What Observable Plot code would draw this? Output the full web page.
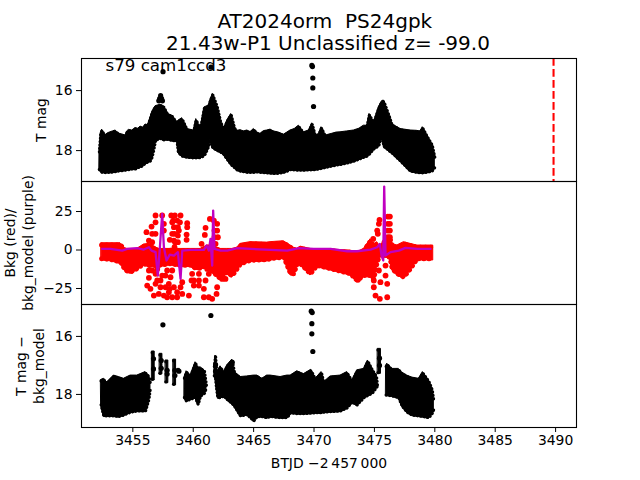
<!DOCTYPE html>
<html><head><meta charset="utf-8">
<script src="https://cdn.jsdelivr.net/npm/d3@7"></script>
<script src="https://cdn.jsdelivr.net/npm/@observablehq/plot@0.6"></script>
<style>
html,body{margin:0;padding:0;background:#fff;font-family:"DejaVu Sans",sans-serif;}
#title{height:58px;position:relative;width:640px;}
#title div{position:absolute;left:8px;width:640px;text-align:center;font-size:20px;line-height:22px;color:#000;white-space:pre;}
svg{display:block;overflow:visible;}
</style></head><body>
<div id="title"><div style="top:10px">AT2024orm  PS24gpk </div><div style="top:32px">21.43w-P1 Unclassified z= -99.0</div></div>
<div id="chart"></div>
<script>
const xDomain=[3450.75,3491.73];
const xTicks=[3455,3460,3465,3470,3475,3480,3485,3490];
const peakTime=[3489.83];
const sectorLabel="s79 cam1ccd3";

// T mag envelope
const magTime=[3452.24,3452.35,3452.46,3452.6,3452.74,3452.95,3453.15,3453.35,3453.57,3453.78,3453.98,3454.2,3454.39,3454.53,3454.67,3454.95,3455.22,3455.45,3455.64,3455.85,3456.05,3456.25,3456.46,3456.6,3456.74,3456.88,3457.29,3457.57,3457.9,3458.26,3458.67,3458.78,3459.09,3459.5,3460.05,3460.25,3460.6,3460.93,3461.29,3461.43,3461.62,3461.98,3462.26,3462.53,3462.81,3463.14,3463.42,3463.65,3463.91,3464.2,3464.47,3464.75,3465.02,3465.3,3465.57,3465.85,3466.12,3466.4,3466.67,3467.1,3467.5,3467.78,3468.05,3468.4,3468.74,3469.16,3469.57,3469.85,3470.12,3470.4,3470.62,3470.95,3471.5,3471.85,3472.19,3472.75,3473.3,3473.75,3474.12,3474.4,3474.59,3474.95,3475.36,3475.56,3475.64,3475.78,3476.19,3476.47,3476.61,3477.16,3477.99,3478.5,3478.81,3479.0,3479.37,3479.78,3480.0];
const magTop=[18.0,17.4,17.3,17.42,17.48,17.42,17.39,17.36,17.33,17.41,17.45,17.47,17.5,17.36,17.31,17.33,17.25,17.27,17.2,17.24,17.13,17.15,16.9,16.72,16.61,16.52,16.47,16.52,16.78,16.83,17.06,17.0,16.92,17.28,17.33,16.95,17.28,16.56,16.5,16.3,16.11,16.5,17.0,17.28,17.0,16.78,17.22,17.34,17.32,17.36,17.33,17.38,17.28,17.4,17.44,17.35,17.33,17.3,17.36,17.4,17.47,17.4,17.33,17.28,17.17,17.39,17.33,17.09,17.5,17.45,17.22,17.5,17.44,17.4,17.39,17.36,17.33,17.27,17.17,17.17,16.78,17.06,16.56,16.4,16.35,16.33,16.78,17.13,17.15,17.28,17.33,17.34,17.36,17.22,17.5,17.78,18.2];
const magBot=[18.67,18.72,18.76,18.76,18.77,18.76,18.76,18.75,18.74,18.72,18.71,18.7,18.69,18.68,18.67,18.65,18.65,18.6,18.58,18.53,18.45,18.42,18.38,18.25,18.0,17.69,17.63,17.68,17.66,17.7,17.72,18.1,18.22,18.26,18.28,18.28,18.27,18.2,17.89,17.61,17.94,18.03,18.08,18.16,18.32,18.5,18.6,18.68,18.72,18.74,18.76,18.76,18.76,18.75,18.76,18.77,18.78,18.79,18.8,18.79,18.76,18.72,18.67,18.68,18.69,18.69,18.68,18.68,18.67,18.65,18.63,18.6,18.55,18.52,18.5,18.45,18.39,18.32,18.26,18.22,18.15,17.98,17.88,17.6,17.5,17.89,18.03,18.12,18.17,18.38,18.72,18.76,18.78,18.78,18.76,18.72,18.6];
const magDotTime=[3457.5,3461.47,3469.82,3469.87,3469.9,3469.9,3469.96,3457.3,3457.22,3457.38,3457.15,3457.45];
const magDotVal=[15.37,15.22,15.16,15.2,15.58,15.91,16.53,16.17,16.27,16.27,16.34,16.34];

// Background
const bkgTime=[3452.41,3453.15,3453.98,3454.4,3454.81,3455.36,3455.91,3456.33,3457.15,3458.12,3458.95,3459.78,3460.19,3460.6,3461.16,3461.57,3462.26,3462.81,3463.22,3463.64,3463.92,3464.74,3466.12,3466.4,3467.5,3468.06,3468.33,3468.61,3468.88,3469.71,3470.26,3471.37,3471.92,3473.02,3473.57,3474.13,3474.68,3474.95,3475.23,3475.5,3476.0,3476.28,3476.47,3476.89,3477.44,3477.99,3478.54,3479.65,3479.87];
const bkgTop=[4.4,4.4,4.4,0.7,0.7,0.7,3.5,4.0,0.7,0.7,0.7,0.7,0.7,0.7,2.9,2.9,0.7,0.7,0.7,1.5,4.0,5.1,4.8,5.1,5.7,2.9,1.5,0.7,2.2,0.7,-0.4,0.7,0.1,-0.4,-1.4,0.7,7,3.5,5.1,2,9,9,4,2.9,5.1,4,2.9,2.9,2.9];
const bkgBot=[-6.8,-7.3,-9.0,-14.4,-15.5,-13.3,-10.1,-11.2,-11.2,-10,-11.2,-11,-13,-13,-11.2,-15,-19.8,-15.5,-18,-13.3,-10.1,-7.9,-7.5,-6.8,-5.8,-16.6,-16.6,-10.1,-10.1,-16.6,-11.2,-13.3,-14.4,-16.6,-20.9,-17.7,-17.7,-20,-9,-4,-5,-6,-13.3,-16.6,-18.8,-13.3,-6.8,-6.8,-6.8];
const bkgDotTime=[3458.18,3458.48,3458.95,3456.88,3457.43,3458.34,3458.67,3458.4,3458.73,3458.45,3458.73,3458.4,3458.73,3458.45,3459.5,3459.5,3459.45,3459.45,3456.55,3456.13,3456.6,3456.88,3456.33,3456.6,3456.88,3457.57,3457.57,3458.06,3461.02,3460.96,3460.69,3461.38,3461.71,3461.98,3461.76,3461.98,3461.76,3462.04,3461.85,3456.33,3456.19,3456.46,3456.74,3456.6,3456.33,3456.88,3457.29,3457.29,3457.57,3457.7,3457.98,3458.06,3457.98,3458.26,3457.84,3458.67,3459.09,3459.09,3459.64,3460.47,3460.47,3460.47,3459.91,3460.05,3459.86,3460.05,3460.88,3460.88,3461.02,3461.29,3461.57,3461.93,3461.16,3461.29,3461.98,3462.4,3462.67,3475.42,3475.23,3475.37,3474.9,3475.28,3474.95,3474.95,3475.37,3475.5,3475.09,3475.45,3476.06,3476.06,3475.92,3475.92,3476.11,3476.28,3476.11,3476.28,3476.11,3476.28,3476.11,3476.28,3476.11,3476.28,3473.63,3457.02,3457.02,3457.15,3457.43,3457.84,3458.12,3458.4,3458.67,3458.95,3457.71,3456.88,3458.26,3458.26,3458.81,3458.26,3458.9,3458.5,3458.12];
const bkgDotVal=[22.4,22.4,22.4,22.4,22.4,19.1,19.1,14.8,14.8,10.5,9.4,6.1,5.1,1.8,17.4,14.8,10.0,6.6,15.2,11.6,10.5,10.5,6.1,5.1,18.0,17,12.6,6.6,14.4,9.8,4,20.2,19.1,17,12.6,12.6,8.3,8.3,4.0,-18.1,-23.1,-25.2,-29.6,-13.3,-13.3,-15.5,-19.8,-24.2,-29.6,-16.6,-22,-25.2,-27.4,-30.7,-30.7,-30.7,-28.5,-20.9,-29.6,-15.5,-19.8,-23.1,-15.5,-19.8,-19.8,-23.1,-30.7,-25.2,-19.8,-30.7,-31.7,-28.5,-12.3,-15.5,-24.2,-18.8,-18.8,19.6,12.6,17,7.2,10.5,-19.8,-24.2,-13.3,-20.9,-29.6,-31.7,-30.7,-22,-16.6,-10.1,21.7,21.7,17,17,12.6,12.6,8.3,8.3,4,4,-19.4,-12.3,-19.8,-28.5,-16.6,-13.3,-17.7,-24.2,-27.4,-24.2,-24.2,-22,-13.3,18,12.6,10.5,18,5.1,-0.4];
const modelTime=[3452.46,3453.15,3454.12,3454.53,3455.36,3455.91,3456.33,3456.55,3456.88,3457.07,3457.24,3457.43,3457.57,3457.79,3458.06,3458.4,3458.73,3458.95,3459.09,3459.78,3460.88,3461.1,3461.29,3461.43,3461.57,3461.65,3461.76,3462.26,3462.81,3463.64,3464.74,3466.4,3467.78,3468.75,3469.99,3471.37,3472.75,3473.57,3474.68,3475.23,3475.45,3475.59,3475.73,3475.81,3475.92,3476.33,3477.02,3477.57,3478.54,3479.65];
const modelVal=[0.7,0.7,-0.4,0.7,1.2,0.3,1.8,-0.4,-1.4,-16.6,1.8,23.5,1.8,-6.8,-3,-3.6,-1.4,-18.8,-0.4,0.1,0.1,2.9,-0.4,7.2,-10.1,25.6,0.7,-0.4,-0.4,1.2,0.7,0.1,-0.4,1.2,0.7,0.7,-0.8,-0.8,0.3,1.8,4,-3.6,-6.8,41.2,-3.6,-1.4,-0.4,1.4,0.7,0.7];

// T mag - bkg_model envelope, in separate pieces
const diffPiece=[0,0,0,0,0,0,0,0,0,0,0,1,1,2,2,3,3,4,4,5,5,6,6,6,6,6,6,6,6,
 7,7,7,7,7,7,7,7,7,7,7,7,7,7,7,7,7,7,7,7,7,7,7,7,7,7,7,7,7,7,7,7,7,7,7,
 8,8,9,9,9,9,9,9,9,9,9,9,9,9];
const diffTime=[3452.38,3452.6,3452.88,3453.43,3453.84,3454.26,3454.81,3455.36,3456.05,3456.33,3456.46,3456.61,3456.81,3457.25,3457.45,3457.74,3457.94,3458.38,3458.58,3458.73,3458.89,3459.28,3459.45,3459.78,3460.19,3460.41,3460.6,3460.93,3461.1,3461.76,3461.85,3461.93,3462.04,3462.26,3462.54,3462.81,3463.23,3463.42,3463.92,3464.47,3465.02,3465.3,3465.71,3466.12,3466.4,3467.23,3467.78,3468.06,3468.61,3469.16,3469.77,3470.13,3470.62,3470.82,3471.37,3472.19,3472.75,3473.16,3473.57,3474.13,3474.46,3474.82,3475.17,3475.26,3475.3,3475.54,3475.98,3476.06,3476.47,3477.02,3477.3,3477.71,3478.13,3478.68,3479.01,3479.51,3479.78,3479.92];
const diffTop=[17.5,17.46,17.58,17.35,17.4,17.46,17.35,17.35,17.23,17.35,17.6,16.52,16.52,16.6,16.6,16.83,16.83,16.8,16.8,17.12,17.12,17.4,17.2,17.35,16.89,17.1,17.06,17.17,17.69,17.0,16.66,17.17,17.2,17.03,17.23,17.0,16.8,17.23,17.4,17.38,17.35,17.35,17.46,17.35,17.35,17.4,17.35,17.35,17.2,17.3,17.15,17.46,17.23,17.58,17.38,17.35,17.23,17.52,17.17,17.12,16.83,17.12,17.35,17.7,16.43,16.43,17.0,16.94,17.12,17.12,17.25,17.35,17.42,17.46,17.23,17.52,17.8,18.21];
const diffBot=[18.4,18.78,18.78,18.78,18.8,18.75,18.65,18.61,18.61,18.21,17.8,17.52,17.52,17.31,17.31,17.61,17.61,17.69,17.69,17.22,17.22,18.15,18.27,18.2,18.15,18.38,18.1,18.0,17.8,17.4,17.46,17.8,18.15,18.15,18.09,18.21,18.35,18.44,18.78,18.73,18.95,18.8,18.8,18.84,18.8,18.84,18.84,18.67,18.7,18.7,18.68,18.67,18.67,18.65,18.63,18.61,18.5,18.3,18.4,18.15,18.07,18.0,17.8,17.75,17.29,17.29,18.06,18.06,18.09,18.15,18.44,18.65,18.75,18.78,18.8,18.84,18.7,18.55];
const diffDotTime=[3457.49,3461.46,3469.77,3469.85,3469.82,3469.82,3469.9,3456.71,3456.71,3457.35,3457.84,3458.48,3458.81,3463.23,3461.85,3461.85,3457.35,3457.84,3458.48,3475.42,3475.42];
const diffDotVal=[15.6,15.28,15.13,15.18,15.56,15.91,16.52,16.77,17.12,16.83,17.17,17.17,17.2,16.89,16.98,17.2,17.1,17.3,17.35,16.75,17.0];

const fs=13.9, left=81, right=64;
const axisOpts={anchor:"left",tickSize:5,tickPadding:4,fontSize:fs,label:null,tickFormat:d3.format("d")};
const frame=Plot.frame({stroke:"#000",strokeWidth:1.1});
const style={background:"transparent",fontFamily:"DejaVu Sans",color:"#000"};
const yLabel=(text,dx)=>Plot.text([text],{text:d=>d,frameAnchor:"left",textAnchor:"middle",rotate:-90,dx,fontSize:fs,lineHeight:1.25,fill:"#000"});
// rounded fringe that gives the envelope the lumpy edge of overlapping points
const fringe=(xs,ys,z,color,dy,w,gap)=>Plot.line(xs,{x:xs,y:ys,z,dy,stroke:color,strokeWidth:w,strokeLinecap:"round",strokeDasharray:`0.1,${gap}`,curve:"linear"});

const p1=Plot.plot({width:640,height:123,marginLeft:left,marginRight:right,marginTop:0,marginBottom:0,style,
  x:{domain:xDomain,axis:null},y:{domain:[19.03,14.93],axis:null},
  marks:[
    Plot.areaY(magTime,{x:magTime,y1:magTop,y2:magBot,fill:"#000",stroke:"#000",strokeWidth:1,strokeLinejoin:"round"}),
    fringe(magTime,magTop,null,"#000",1.2,3.4,3.3),
    fringe(magTime,magBot,null,"#000",-1.2,3.4,3.3),
    Plot.dot(magDotTime,{x:magDotTime,y:magDotVal,r:2.6,fill:"#000"}),
    Plot.ruleX(peakTime,{x:d=>d,stroke:"#f00",strokeWidth:2.08,strokeDasharray:"7.7,3.3"}),
    Plot.text([sectorLabel],{x:3452.74,y:15.33,text:d=>d,textAnchor:"start",lineAnchor:"bottom",fontSize:16.67,fill:"#000"}),
    Plot.axisY({...axisOpts,ticks:[16,18]}),
    yLabel("T mag",-41),
    frame
  ]});
const p2=Plot.plot({width:640,height:123,marginLeft:left,marginRight:right,marginTop:0,marginBottom:0,style,
  x:{domain:xDomain,axis:null},y:{domain:[-35.4,44.5],axis:null},
  marks:[
    Plot.areaY(bkgTime,{x:bkgTime,y1:bkgTop,y2:bkgBot,fill:"#f00",stroke:"#f00",strokeWidth:1,strokeLinejoin:"round"}),
    fringe(bkgTime,bkgTop,null,"#f00",1.8,5,5),
    fringe(bkgTime,bkgBot,null,"#f00",-1.8,5,5),
    Plot.dot(bkgDotTime,{x:bkgDotTime,y:bkgDotVal,r:2.9,fill:"#f00"}),
    Plot.line(modelTime,{x:modelTime,y:modelVal,stroke:"#c000c0",strokeWidth:2.3}),
    Plot.axisY({...axisOpts,ticks:[-25,0,25]}),
    yLabel("Bkg (red)/\nbkg_model (purple)",-63),
    frame
  ]});
const p3=Plot.plot({width:640,height:176,marginLeft:left,marginRight:right,marginTop:0,marginBottom:53,style,
  x:{domain:xDomain},y:{domain:[19.14,14.9],axis:null},
  marks:[
    Plot.areaY(diffTime,{x:diffTime,y1:diffTop,y2:diffBot,z:diffPiece,fill:"#000",stroke:"#000",strokeWidth:1,strokeLinejoin:"round"}),
    fringe(diffTime,diffTop,diffPiece,"#000",1.2,3.4,3.3),
    fringe(diffTime,diffBot,diffPiece,"#000",-1.2,3.4,3.3),
    Plot.dot(diffDotTime,{x:diffDotTime,y:diffDotVal,r:2.6,fill:"#000"}),
    Plot.axisY({...axisOpts,ticks:[16,18]}),
    yLabel("T mag \u2212\nbkg_model",-52),
    Plot.axisX({ticks:xTicks,tickFormat:d3.format("d"),tickSize:5,tickPadding:3,fontSize:fs,label:"BTJD \u22122\u2009457\u2009000",labelAnchor:"center",labelArrow:"none",labelOffset:40}),
    frame
  ]});
document.getElementById("chart").append(p1,p2,p3);
</script>
</body></html>
